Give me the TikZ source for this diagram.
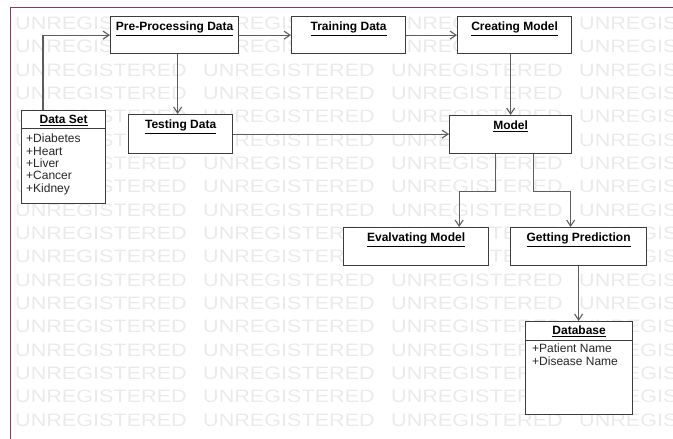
\documentclass[tikz,border=0pt]{standalone}
\usepackage{fontspec}
\setmainfont{Liberation Sans}
\usepackage{tikz}
\usetikzlibrary{positioning, arrows.meta}
\usepackage{xcolor}
\definecolor{boxline}{HTML}{3C3C3C}
\definecolor{linkline}{HTML}{5E5E5E}
\definecolor{frameline}{HTML}{8C3A62}
\definecolor{wmgray}{HTML}{EAEAEA}

\begin{document}
\begin{tikzpicture}[x=1pt, y=-1pt,
    box/.style={draw=boxline, fill=white, line width=1.3pt, anchor=north west, inner sep=0pt},
    title/.style={font=\bfseries\fontsize{12}{12}\selectfont, inner sep=0pt},
    attr/.style={font=\fontsize{12}{12.3}\selectfont, align=left, inner sep=0pt, text=black!85},
    link/.style={draw=linkline, line width=1.1pt, -{Straight Barb[length=6pt,width=8pt]}},
    wmark/.style={font=\fontsize{18}{18}\selectfont, text=wmgray, anchor=west, inner sep=0pt}]
    \useasboundingbox (0,0) rectangle (673,439);

    % watermark
    \foreach \r in {1,...,18}
      \foreach \c in {0,...,3}
        \node[wmark] (wm-\r-\c) at (15+188*\c, 23.33*\r) {\scalebox{1.2}[1]{UNREGISTERED}};
    \draw[frameline, line width=0.8pt] (10,439) -- (10,7) -- (673,7);

    % boxes
    \node[box, minimum width=84pt, minimum height=93pt] at (21,110) (dataset) {};
    \node[box, minimum width=128pt, minimum height=37pt] at (110,16) (pre) {};
    \node[box, minimum width=114pt, minimum height=37pt] at (291,16) (train) {};
    \node[box, minimum width=114pt, minimum height=37pt] at (457,16) (create) {};
    \node[box, minimum width=104pt, minimum height=39pt] at (128,114) (test) {};
    \node[box, minimum width=122pt, minimum height=38pt] at (449,115) (model) {};
    \node[box, minimum width=145pt, minimum height=38pt] at (343,227) (eval) {};
    \node[box, minimum width=136pt, minimum height=38pt] at (510,227) (predict) {};
    \node[box, minimum width=107pt, minimum height=93pt] at (525,321) (database) {};

    % titles
    \node[title, below=5pt of dataset.north] (dataset-title) {\underline{Data Set}};
    \node[title, below=6pt of pre.north] (pre-title) {\underline{Pre-Processing Data}};
    \node[title, below=6pt of train.north] (train-title) {\underline{Training Data}};
    \node[title, below=6pt of create.north] (create-title) {\underline{Creating Model}};
    \node[title, below=6pt of test.north] (test-title) {\underline{Testing Data}};
    \node[title, below=6pt of model.north] (model-title) {\underline{Model}};
    \node[title, below=6pt of eval.north] (eval-title) {\underline{Evalvating Model}};
    \node[title, below=6pt of predict.north] (predict-title) {\underline{Getting Prediction}};
    \node[title, below=5pt of database.north] (database-title) {\underline{Database}};

    % attributes
    \draw[boxline, line width=1pt] ([yshift=-18pt]dataset.north west) -- ([yshift=-18pt]dataset.north east);
    \node[attr, anchor=north west, below right=24pt and 5pt of dataset.north west] (dataset-attr)
      {+Diabetes\\+Heart\\+Liver\\+Cancer\\+Kidney};
    \draw[boxline, line width=1pt] ([yshift=-19pt]database.north west) -- ([yshift=-19pt]database.north east);
    \node[attr, anchor=north west, below right=23pt and 7pt of database.north west] (database-attr)
      {+Patient Name\\+Disease Name};

    % connectors
    \draw[link] ([xshift=22pt]dataset.north west) |- (pre.west);
    \draw[link] (pre.east) -- (train.west);
    \draw[link] (train.east) -- (create.west);
    \draw[link] ([xshift=3pt]pre.south) -- ([xshift=3pt]pre.south |- test.north);
    \draw[link] (create.south -| model.north) -- (model.north);
    \draw[link] (test.east) -- (test.east -| model.west);
    \draw[link] ([xshift=-15pt]model.south) -- ++(0,37) -| ([xshift=43pt]eval.north);
    \draw[link] ([xshift=23pt]model.south) -- ++(0,37) -| ([xshift=-8pt]predict.north);
    \draw[link] (predict.south) -- (predict.south |- database.north);
  \end{tikzpicture}
\end{document}
